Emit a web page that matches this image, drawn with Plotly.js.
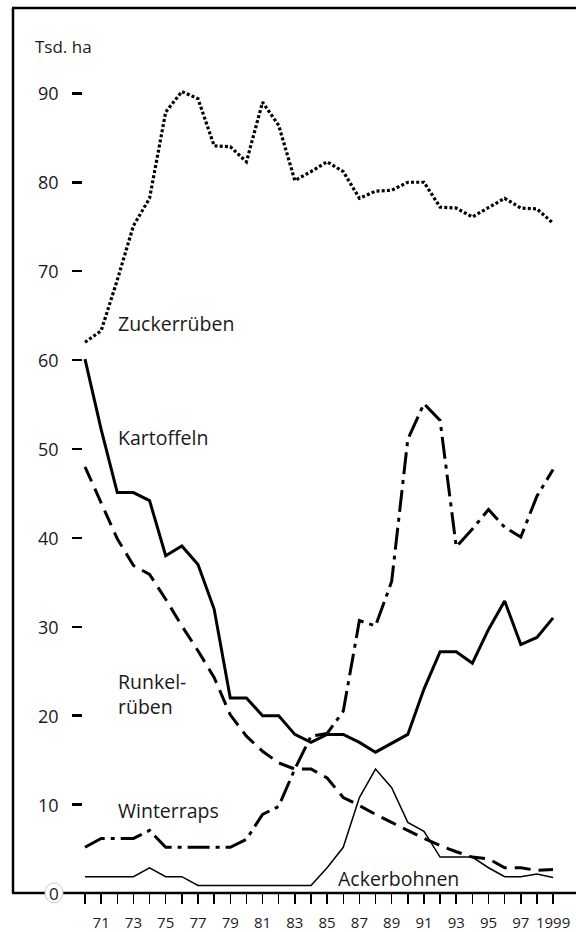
<!DOCTYPE html>
<html>
<head>
<meta charset="utf-8">
<script src="https://cdn.plot.ly/plotly-3.0.1.min.js"></script>
<style>
  html, body { margin: 0; padding: 0; background: #ffffff; }
  #chart { width: 576px; height: 932px; }
</style>
</head>
<body>
<div id="chart"></div>
<script>
// ---- Data (Tsd. ha) ----
const years = [1970, 1971, 1972, 1973, 1974, 1975, 1976, 1977, 1978, 1979,
               1980, 1981, 1982, 1983, 1984, 1985, 1986, 1987, 1988, 1989,
               1990, 1991, 1992, 1993, 1994, 1995, 1996, 1997, 1998, 1999];

const zuckerrueben = [62.0, 63.3, 69.0, 75.1, 78.2, 87.9, 90.2, 89.4, 84.1, 84.0,
                      82.3, 89.0, 86.4, 80.2, 81.2, 82.3, 81.2, 78.2, 79.0, 79.1,
                      80.0, 80.0, 77.2, 77.1, 76.1, 77.1, 78.2, 77.1, 77.0, 75.4];

const kartoffeln = [60.1, 52.2, 45.1, 45.1, 44.2, 38.0, 39.1, 37.0, 32.0, 22.0,
                    22.0, 20.0, 20.0, 17.9, 17.0, 17.9, 17.9, 17.0, 15.9, 16.9,
                    17.9, 23.0, 27.2, 27.2, 25.9, 29.7, 32.9, 28.0, 28.8, 31.0];

const runkelrueben = [48.0, 44.0, 39.9, 36.9, 35.9, 33.1, 30.1, 27.3, 24.3, 20.1,
                      17.7, 16.0, 14.7, 14.0, 14.0, 13.0, 10.8, 9.9, 8.9, 8.0,
                      7.1, 6.2, 5.4, 4.7, 4.1, 3.9, 2.9, 2.9, 2.6, 2.7];

const winterraps = [5.2, 6.2, 6.2, 6.2, 7.1, 5.2, 5.2, 5.2, 5.2, 5.2,
                    6.1, 8.9, 9.8, 14.0, 17.7, 18.0, 20.5, 30.7, 30.1, 35.1,
                    51.1, 55.1, 53.2, 39.0, 41.0, 43.2, 41.2, 40.1, 44.7, 47.7];

const ackerbohnen = [1.9, 1.9, 1.9, 1.9, 2.9, 1.9, 1.9, 0.9, 0.9, 0.9,
                     0.9, 0.9, 0.9, 0.9, 0.9, 2.9, 5.2, 10.8, 14.0, 11.9,
                     8.0, 7.0, 4.1, 4.1, 4.1, 2.9, 1.9, 1.9, 2.2, 1.8];

const xTickLabels = ["", "71", "", "73", "", "75", "", "77", "", "79",
                     "", "81", "", "83", "", "85", "", "87", "", "89",
                     "", "91", "", "93", "", "95", "", "97", "", "1999"];

const yTickVals = [10, 20, 30, 40, 50, 60, 70, 80, 90];
const yTickLabels = ["10", "20", "30", "40", "50", "60", "70", "80", "90"];
const seriesNames = ["Zuckerrüben", "Kartoffeln", "Runkel-<br>rüben", "Winterraps", "Ackerbohnen"];

// ---- Traces ----
const FONT = "'Open Sans', 'Noto Sans', sans-serif";
const TXT = "#1a1a1a";
const traces = [
  { x: years, y: zuckerrueben, name: "Zuckerrüben", mode: "lines",
    line: { color: "#000", width: 3.2, dash: "3px,2.2px" } },
  { x: years, y: kartoffeln, name: "Kartoffeln", mode: "lines",
    line: { color: "#000", width: 3 } },
  { x: years, y: runkelrueben, name: "Runkelrüben", mode: "lines",
    line: { color: "#000", width: 3, dash: "16px,8px" } },
  { x: years, y: winterraps, name: "Winterraps", mode: "lines",
    line: { color: "#000", width: 3, dash: "22px,6px,4px,6px" } },
  { x: years, y: ackerbohnen, name: "Ackerbohnen", mode: "lines",
    line: { color: "#000", width: 1.5 } }
];

// pixel helpers for layout placement
const L = 83, R = 576, T = 8, B = 893;
const px = v => (v - L) / (R - L);
const py = v => (B - v) / (B - T);

const annotations = [
  { text: "Tsd. ha", xref: "paper", yref: "paper", x: px(33), y: py(47),
    xanchor: "left", yanchor: "middle", showarrow: false, font: { size: 17, color: TXT } },
  { text: "0", xref: "paper", yref: "paper", x: px(54), y: 0,
    xanchor: "center", yanchor: "middle", showarrow: false, font: { size: 17, color: TXT } },
  { text: seriesNames[0], xref: "paper", yref: "paper", x: px(116), y: py(323),
    xanchor: "left", yanchor: "middle", showarrow: false, font: { size: 19.5, color: TXT } },
  { text: seriesNames[1], xref: "paper", yref: "paper", x: px(116), y: py(437),
    xanchor: "left", yanchor: "middle", showarrow: false, font: { size: 19.5, color: TXT } },
  { text: seriesNames[2], xref: "paper", yref: "paper", x: px(116), y: py(694),
    xanchor: "left", yanchor: "middle", align: "left", showarrow: false, font: { size: 19.5, color: TXT } },
  { text: seriesNames[3], xref: "paper", yref: "paper", x: px(116), y: py(810),
    xanchor: "left", yanchor: "middle", showarrow: false, font: { size: 19.5, color: TXT } },
  { text: seriesNames[4], xref: "paper", yref: "paper", x: px(336), y: py(878),
    xanchor: "left", yanchor: "middle", showarrow: false, font: { size: 19.5, color: TXT } }
];
yTickVals.forEach((v, i) => {
  annotations.push({ text: yTickLabels[i], xref: "paper", yref: "y", x: px(61), y: v,
    xanchor: "right", yanchor: "middle", showarrow: false, font: { size: 18, color: TXT } });
});

const layout = {
  width: 576, height: 932,
  margin: { l: L, r: 576 - R, t: T, b: 932 - B },
  paper_bgcolor: "#fff", plot_bgcolor: "#fff",
  showlegend: false,
  font: { family: FONT, color: TXT },
  xaxis: {
    range: [1969.876, 2000.42],
    tickvals: years, ticktext: xTickLabels,
    ticks: "outside", ticklen: 10, tickwidth: 1.5, tickcolor: "#000",
    ticklabelstandoff: 6,
    showgrid: false, zeroline: false, showline: false,
    tickfont: { family: FONT, size: 15, color: TXT },
    fixedrange: true
  },
  yaxis: {
    range: [0.06, 99.6],
    tickvals: yTickVals, showticklabels: false,
    ticks: "outside", ticklen: 10, tickwidth: 2.6, tickcolor: "#000",
    showgrid: false, zeroline: false, showline: false,
    fixedrange: true
  },
  shapes: [
    { type: "line", xref: "paper", yref: "paper", x0: px(13), x1: px(13), y0: 0, y1: 1,
      line: { color: "#000", width: 2.5 } },
    { type: "line", xref: "paper", yref: "paper", x0: px(12), x1: 1, y0: 1, y1: 1,
      line: { color: "#000", width: 2.5 } },
    { type: "line", xref: "paper", yref: "paper", x0: px(12), x1: 1, y0: 0, y1: 0,
      line: { color: "#000", width: 2.5 } },
    { type: "circle", xref: "paper", yref: "paper", x0: px(45), x1: px(63), y0: py(903), y1: py(883),
      line: { color: "#cccccc", width: 1 }, fillcolor: "#fff", layer: "above" }
  ],
  annotations: annotations
};

Plotly.newPlot("chart", traces, layout, { staticPlot: true, displayModeBar: false });
</script>
</body>
</html>
